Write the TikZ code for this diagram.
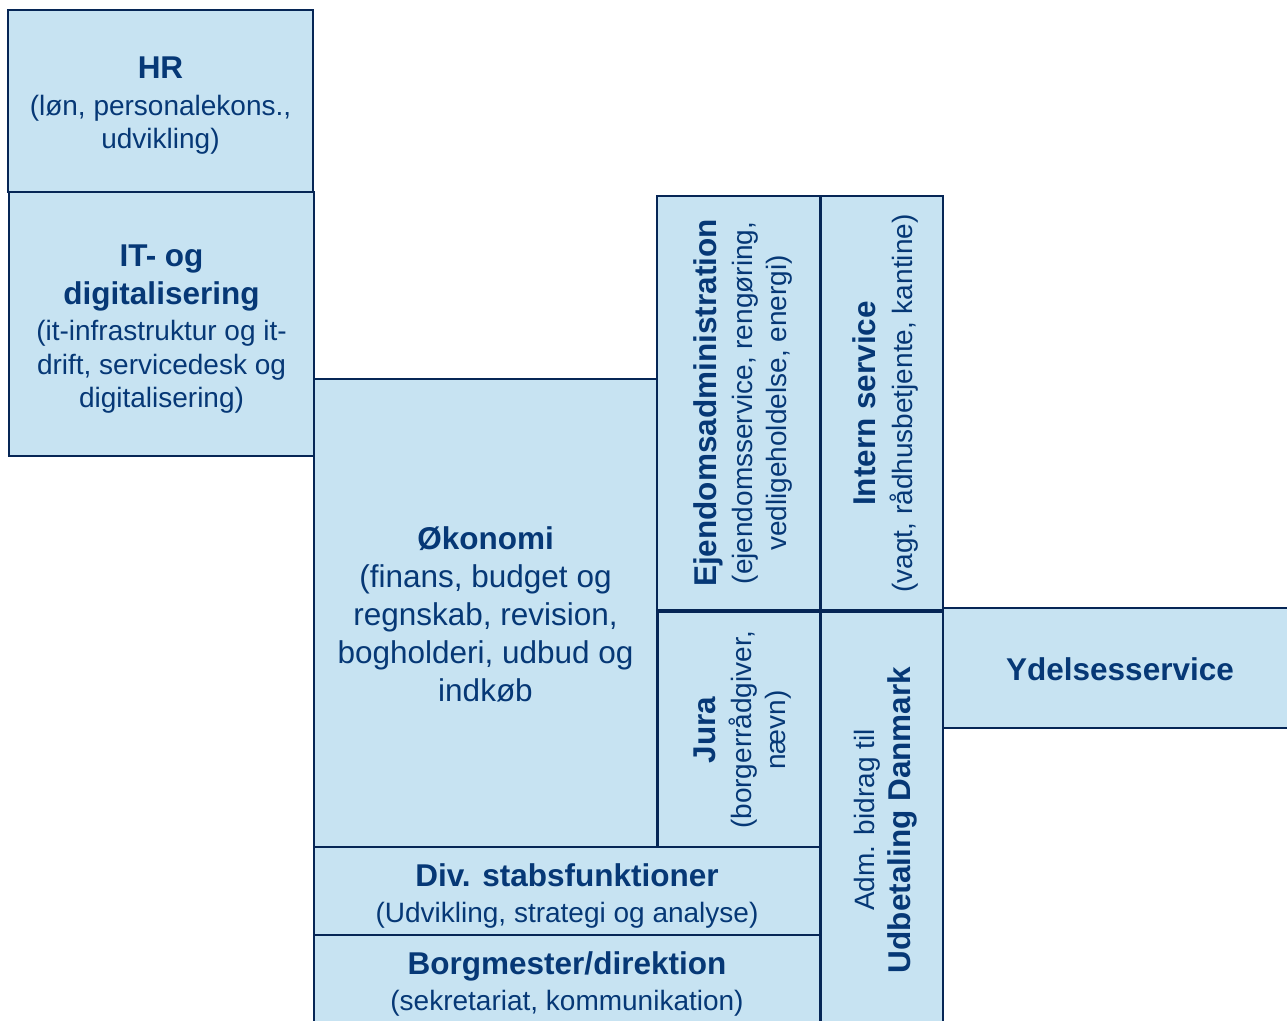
\documentclass[tikz,border=0pt]{standalone}
\usepackage{fontspec}
\setmainfont{Liberation Sans}
\usetikzlibrary{fit}
\definecolor{boxfill}{RGB}{199,227,242}
\definecolor{boxline}{RGB}{6,38,86}
\definecolor{txtblue}{RGB}{6,56,118}
\tikzset{
  orgbox/.style={draw=boxline, fill=boxfill, line width=2.8pt, inner sep=0pt, rectangle},
  lbl/.style={text=txtblue, align=center, inner sep=0pt, font=\fontsize{28}{33.5}\selectfont},
  biglbl/.style={lbl, font=\fontsize{31.5}{38}\selectfont},
}
\newcommand{\ttl}[1]{{\fontsize{31.5}{36}\selectfont\bfseries #1}}
\begin{document}
\begin{tikzpicture}[x=1pt,y=-1pt]
\clip (0,0) rectangle (1287,1020);
\fill[white] (0,0) rectangle (1287,1020);
% boxes
\node[orgbox, fit={(8,10) (313,192)}] (hr) {};
\node[orgbox, fit={(9,192) (314,456)}] (it) {};
\node[orgbox, fit={(314,379) (657,847)}] (oek) {};
\node[orgbox, fit={(657,196) (820,610)}] (ej) {};
\node[orgbox, fit={(821,196) (943,610)}] (is) {};
\node[orgbox, fit={(658,612) (820,847)}] (jura) {};
\node[orgbox, fit={(821,612) (943,1045)}] (ud) {};
\node[orgbox, fit={(943,608) (1300,728)}] (yd) {};
\node[orgbox, fit={(314,847) (820,935)}] (div) {};
\node[orgbox, fit={(314,935) (820,1045)}] (borg) {};
% texts
\node[lbl] (hrt) at (160.5,106) {\ttl{HR}\\[3pt] (løn, personalekons.,\\ udvikling)};
\node[lbl] (itt) at (161.5,329) {\ttl{IT- og}\\[4.5pt] \ttl{digitalisering}\\[3pt] (it-infrastruktur og it-\\ drift, servicedesk og\\ digitalisering)};
\node[biglbl] (oekt) at (485.5,614.5) {\textbf{Økonomi}\\ (finans, budget og\\ regnskab, revision,\\ bogholderi, udbud og\\ indkøb};
\node[lbl, rotate=90] (ejt) at (742.5,403) {\ttl{Ejendomsadministration}\\[3pt] (ejendomsservice, rengøring,\\ vedligeholdelse, energi)};
\node[lbl, rotate=90] (ist) at (885.5,403.5) {\ttl{Intern service}\\[3pt] (vagt, rådhusbetjente, kantine)};
\node[lbl, rotate=90] (jurat) at (742.5,730) {\ttl{Jura}\\[3pt] (borgerrådgiver,\\ nævn)};
\node[lbl, rotate=90] (udt) at (885.5,820) {Adm. bidrag til\\[2pt] \ttl{Udbetaling Danmark}};
\node[lbl] (ydt) at (1120,669.5) {\ttl{Ydelsesservice}};
\node[lbl] (divt) at (567,896) {\ttl{Div. stabsfunktioner}\\[3pt] (Udvikling, strategi og analyse)};
\node[lbl] (borgt) at (567,984) {\ttl{Borgmester/direktion}\\[3pt] (sekretariat, kommunikation)};
\end{tikzpicture}
\end{document}
